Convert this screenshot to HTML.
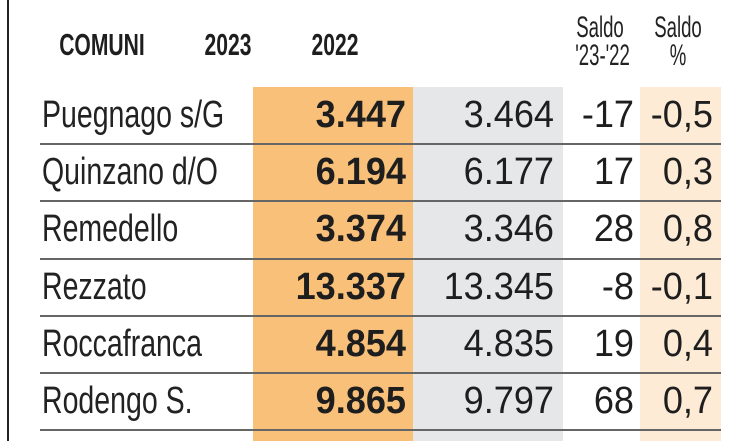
<!DOCTYPE html>
<html><head><meta charset="utf-8"><style>
body{margin:0;width:753px;height:441px;background:#fff;overflow:hidden;position:relative;font-family:"Liberation Sans",sans-serif;color:#1e1e1e}
.abs{position:absolute;white-space:nowrap}
.hd{font-weight:bold;font-size:31px;text-align:center;line-height:30px;transform:scaleX(0.68);transform-origin:center}
.hs{font-size:30px;text-align:center;line-height:28px;color:#222;transform:scaleX(0.62);transform-origin:center}
.nm{font-size:38px;line-height:57px;color:#222;transform:scaleX(0.75);transform-origin:left center}
.num{font-size:38px;line-height:57px;text-align:right;transform:scaleX(0.95);transform-origin:right center}
</style></head><body>
<div class="abs" style="left:7px;top:0;width:2px;height:441px;background:#222"></div>
<div class="abs" style="left:253px;top:87px;width:160px;height:354px;background:#f9c07a"></div>
<div class="abs" style="left:413px;top:87px;width:150px;height:354px;background:#e6e7e9"></div>
<div class="abs" style="left:640px;top:87px;width:81px;height:354px;background:#fdebd6"></div>
<div class="abs hd" style="left:40px;top:30px;width:120px">COMUNI</div>
<div class="abs hd" style="left:188px;top:30px;width:80px">2023</div>
<div class="abs hd" style="left:295px;top:30px;width:80px">2022</div>
<div class="abs hs" style="left:560px;top:14px;width:80px">Saldo<br>'23-'22</div>
<div class="abs hs" style="left:638px;top:14px;width:80px">Saldo<br>%</div>
<div id="rows"></div>
<script>
const names=["Puegnago s/G","Quinzano d/O","Remedello","Rezzato","Roccafranca","Rodengo S."];
const v2023=["3.447","6.194","3.374","13.337","4.854","9.865"];
const v2022=["3.464","6.177","3.346","13.345","4.835","9.797"];
const saldo=["-17","17","28","-8","19","68"];
const pct=["-0,5","0,3","0,8","-0,1","0,4","0,7"];
const top0=87,rh=57.2;
const R=document.getElementById('rows');
function add(cls,txt,st,name){const d=document.createElement('div');d.className='abs '+cls;d.textContent=txt;d.style.cssText=st;


R.appendChild(d);return d;}
names.forEach((n,i)=>{const y=top0+i*rh;
add('nm',n,`left:42px;top:${y}px`,'row-name');
add('num',v2023[i],`left:230px;width:176px;top:${y}px;font-weight:bold`,'value-2023');
add('num',v2022[i],`left:400px;width:154px;top:${y}px`,'value-2022');
add('num',saldo[i],`left:560px;width:74px;top:${y}px`,'value-saldo');
add('num',pct[i],`left:635px;width:78px;top:${y}px`,'value-pct');
add('',"",`left:40px;width:681px;height:2px;background:#666;top:${y+rh-1}px`,'row-separator');
});
</script>
</body></html>
